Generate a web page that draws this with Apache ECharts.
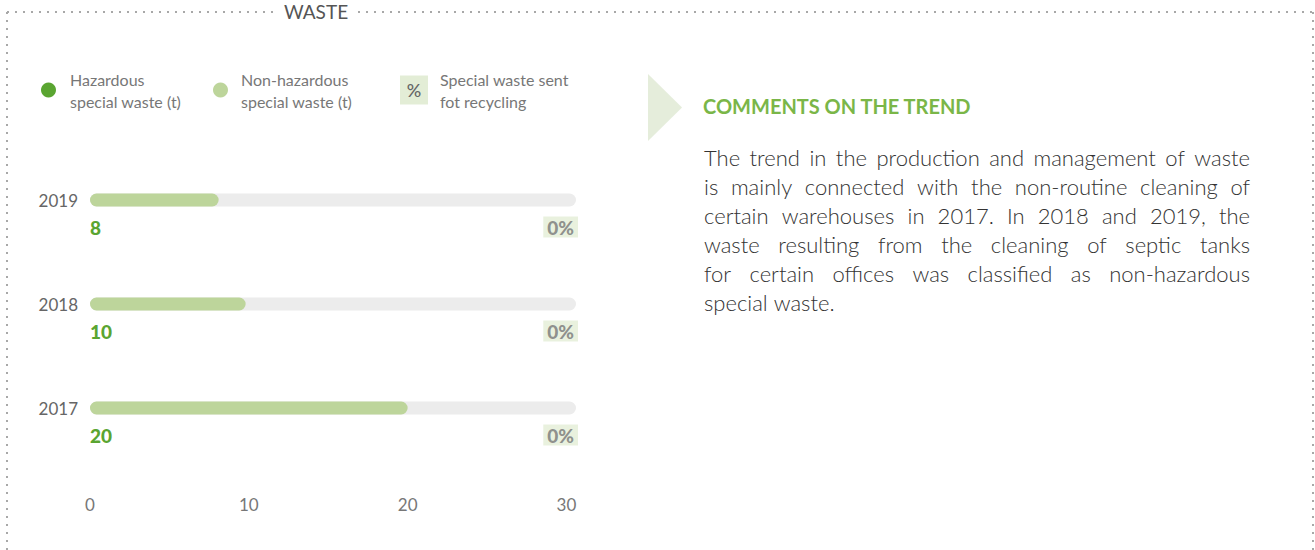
<!DOCTYPE html>
<html>
<head>
<meta charset="utf-8">
<script src="https://cdn.jsdelivr.net/npm/echarts@6/dist/echarts.min.js"></script>
<style>
html,body{margin:0;padding:0;background:#fff;}
#chart{width:1315px;height:550px;}
</style>
</head>
<body>
<div id="chart"></div>
<script>
// ---- data ----
var years = ['2017', '2018', '2019'];
var hazardous = [0, 0, 0];
var nonHazardous = [20, 9.8, 8.1];
var recycling = [0, 0, 0];
var xTicks = [0, 10, 20, 30];
var seriesNames = ['Hazardous\nspecial waste (t)', 'Non-hazardous\nspecial waste (t)', 'Special waste sent\nfot recycling'];
var title = 'WASTE';
var commentTitle = 'COMMENTS ON THE TREND';
var commentLines = [
  'The trend in the production and management of waste',
  'is mainly connected with the non-routine cleaning of',
  'certain warehouses in 2017. In 2018 and 2019, the',
  'waste resulting from the cleaning of septic tanks',
  'for certain offices was classified as non-hazardous',
  'special waste.'
];

// ---- layout / style ----
var FONT = 'Lato';
var X_MAX = 30.6;
var DARK = '#5aa531', LIGHT = '#bdd59b', PALE = '#e3edd6', TRACK = '#ececec';

var chart = echarts.init(document.getElementById('chart'), null, {renderer: 'svg'});

// justified paragraph built from measured words
var ctx = document.createElement('canvas').getContext('2d');
var pLeft = 704, pWidth = 546, pTop = 157, pLH = 29;
var pFont = 20;
ctx.font = '300 ' + pFont + 'px ' + FONT;
var firstW = ctx.measureText(commentLines[0]).width;
pFont = Math.min(22, pFont * (pWidth - 4) / firstW);
var pFontStr = '300 ' + pFont.toFixed(2) + 'px ' + FONT;
ctx.font = pFontStr;
var paraEls = [];
commentLines.forEach(function (line, li) {
  var words = line.split(' ');
  var y = pTop + li * pLH;
  var last = li === commentLines.length - 1;
  var widths = words.map(function (w) { return ctx.measureText(w).width; });
  var total = widths.reduce(function (a, b) { return a + b; }, 0);
  var gap = last || words.length < 2 ? ctx.measureText(' ').width : (pWidth - total) / (words.length - 1);
  var x = pLeft;
  words.forEach(function (w, wi) {
    paraEls.push({type: 'text', x: x, y: y, silent: true,
      style: {text: w, font: pFontStr, fill: '#333', textVerticalAlign: 'middle', verticalAlign: 'middle'}});
    x += widths[wi] + gap;
  });
});

var dot = {stroke: '#a8a8a8', lineWidth: 2, lineDash: [2, 6]};
var legendText = {color: '#777', fontSize: 16, lineHeight: 22, fontFamily: FONT};

var option = {
  animation: false,
  textStyle: {fontFamily: FONT},
  legend: [
    {data: [seriesNames[0]], left: 41, top: 68, padding: 0, icon: 'circle', itemWidth: 15, itemHeight: 15,
     textStyle: Object.assign({padding: [0, 0, 0, 9]}, legendText), selectedMode: false},
    {data: [seriesNames[1]], left: 213, top: 68, padding: 0, icon: 'circle', itemWidth: 15, itemHeight: 15,
     textStyle: Object.assign({padding: [0, 0, 0, 8]}, legendText), selectedMode: false},
    {data: [{name: seriesNames[2], itemStyle: {color: PALE, opacity: 1}}], left: 400, top: 68, padding: 0, icon: 'rect', itemWidth: 28, itemHeight: 29,
     textStyle: Object.assign({padding: [0, 0, 0, 7]}, legendText), selectedMode: false}
  ],
  grid: {left: 90, width: 486, top: 148, height: 312},
  xAxis: {
    type: 'value', min: 0, max: X_MAX, interval: 10,
    axisLine: {show: false}, axisTick: {show: false}, splitLine: {show: false},
    axisLabel: {color: '#777', fontSize: 17, margin: 36, showMaxLabel: false, fontFamily: FONT,
      formatter: function (v) { return xTicks.indexOf(v) >= 0 ? String(v) : ''; }}
  },
  yAxis: {
    type: 'category', data: years,
    axisLine: {show: false}, axisTick: {show: false}, splitLine: {show: false},
    axisLabel: {color: '#666', fontSize: 17, margin: 12, fontFamily: FONT}
  },
  series: [
    {
      name: seriesNames[0], type: 'bar', stack: 'w', data: hazardous, barWidth: 13,
      itemStyle: {color: DARK, borderRadius: 6.5},
      showBackground: true, backgroundStyle: {color: TRACK, borderRadius: 6.5}
    },
    {
      name: seriesNames[1], type: 'bar', stack: 'w', data: nonHazardous, barWidth: 13,
      itemStyle: {color: LIGHT, borderRadius: 6.5},
      label: {show: true, position: [0, 24], color: DARK, fontSize: 19, fontWeight: 900, fontFamily: FONT,
        formatter: function (p) { return String(Math.round(p.value)); }}
    },
    {
      name: seriesNames[2], type: 'scatter', symbolSize: 1,
      itemStyle: {color: 'rgba(0,0,0,0)'},
      data: years.map(function (y, i) { return [X_MAX, y, recycling[i]]; }),
      label: {show: true, position: 'inside', align: 'right', offset: [2, 27],
        color: '#777', fontSize: 19, fontWeight: 900, fontFamily: FONT, lineHeight: 19,
        backgroundColor: PALE, padding: [1, 4],
        formatter: function (p) { return p.value[2] + '%'; }}
    }
  ],
  graphic: [
    {type: 'line', silent: true, shape: {x1: 7, y1: 12, x2: 276, y2: 12}, style: dot},
    {type: 'line', silent: true, shape: {x1: 358, y1: 12, x2: 1313, y2: 12}, style: dot},
    {type: 'line', silent: true, shape: {x1: 7, y1: 12, x2: 7, y2: 552}, style: dot},
    {type: 'line', silent: true, shape: {x1: 1313, y1: 12, x2: 1313, y2: 552}, style: dot},
    {type: 'text', x: 316, y: 11, silent: true,
     style: {text: title, font: '19px ' + FONT, fill: '#555', textAlign: 'center', textVerticalAlign: 'middle', align: 'center', verticalAlign: 'middle'}},
    {type: 'text', x: 414, y: 90, z: 100, silent: true,
     style: {text: '%', font: '500 18px ' + FONT, fill: '#666', textAlign: 'center', textVerticalAlign: 'middle', align: 'center', verticalAlign: 'middle'}},
    {type: 'polygon', silent: true, shape: {points: [[648, 74], [682, 107.5], [648, 141]]}, style: {fill: '#e5eddb'}},
    {type: 'text', x: 703, y: 106, silent: true,
     style: {text: commentTitle, font: 'bold 20px ' + FONT, fill: '#7ab648', textVerticalAlign: 'middle', verticalAlign: 'middle'}}
  ].concat(paraEls)
};
chart.setOption(option);
</script>
</body>
</html>
